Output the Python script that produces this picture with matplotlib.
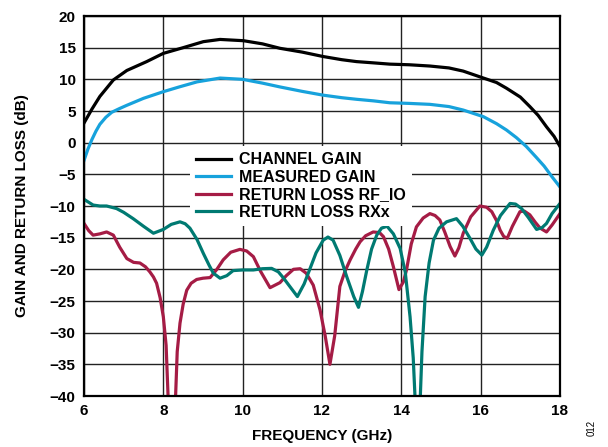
import matplotlib
matplotlib.use("Agg")
import matplotlib.pyplot as plt

plt.rcParams['font.family'] = ['Liberation Sans', 'DejaVu Sans']
plt.rcParams['font.weight'] = 'bold'

# Channel gain (black)
cg_f = [6.0, 6.2, 6.4, 6.74, 7.08, 7.58, 8.0, 8.5, 9.01, 9.43, 10.02, 10.5, 10.94, 11.5, 12.03, 12.5, 12.87, 13.3, 13.71, 14.2, 14.72, 15.2, 15.56, 16.07, 16.4, 16.65, 17.0, 17.24, 17.45, 17.66, 17.85, 18.0]
cg_v = [3.1, 5.3, 7.3, 9.9, 11.4, 12.8, 14.1, 15.0, 15.95, 16.3, 16.1, 15.6, 14.9, 14.3, 13.6, 13.1, 12.8, 12.6, 12.4, 12.3, 12.1, 11.8, 11.3, 10.2, 9.5, 8.6, 7.2, 5.7, 4.3, 2.5, 1.0, -0.6]

# Measured gain (blue)
mg_f = [6.0, 6.1, 6.2, 6.3, 6.4, 6.55, 6.7, 6.9, 7.08, 7.5, 8.0, 8.4, 8.85, 9.43, 10.0, 10.5, 10.94, 11.5, 12.03, 12.5, 12.87, 13.3, 13.71, 14.2, 14.72, 15.2, 15.56, 16.07, 16.4, 16.65, 16.9, 17.15, 17.4, 17.6, 17.8, 18.0]
mg_v = [-2.8, -1.0, 0.5, 1.8, 2.9, 4.0, 4.8, 5.4, 5.9, 7.0, 8.05, 8.8, 9.6, 10.2, 10.0, 9.4, 8.8, 8.1, 7.5, 7.1, 6.85, 6.6, 6.3, 6.2, 6.05, 5.7, 5.15, 4.1, 3.0, 2.0, 0.8, -0.6, -2.3, -3.7, -5.4, -7.0]

# Return loss RF_IO (crimson)
rf_f = [6.0, 6.12, 6.23, 6.4, 6.57, 6.74, 6.9, 7.08, 7.25, 7.41, 7.55, 7.66, 7.75, 7.83, 7.92, 8.0, 8.07, 8.15, 8.28, 8.35, 8.42, 8.5, 8.59, 8.7, 8.84, 9.0, 9.18, 9.35, 9.51, 9.7, 9.93, 10.1, 10.27, 10.45, 10.69, 10.94, 11.1, 11.28, 11.45, 11.6, 11.78, 11.95, 12.08, 12.2, 12.32, 12.45, 12.58, 12.71, 12.85, 12.96, 13.1, 13.29, 13.45, 13.55, 13.68, 13.8, 13.94, 14.05, 14.13, 14.25, 14.38, 14.55, 14.72, 14.85, 14.97, 15.1, 15.23, 15.35, 15.45, 15.56, 15.75, 15.98, 16.15, 16.28, 16.4, 16.49, 16.58, 16.67, 16.8, 16.99, 17.1, 17.24, 17.38, 17.5, 17.66, 17.8, 18.0]
rf_v = [-12.75, -13.9, -14.6, -14.4, -14.1, -14.6, -16.5, -18.3, -18.9, -19.0, -19.6, -20.4, -21.2, -22.2, -24.5, -27.5, -32.0, -45.0, -45.0, -33.0, -28.5, -25.5, -23.3, -22.2, -21.6, -21.4, -21.3, -20.0, -18.5, -17.3, -16.85, -17.1, -18.0, -20.3, -22.9, -22.1, -21.0, -20.0, -19.9, -20.6, -22.5, -26.4, -30.5, -35.0, -30.5, -22.7, -20.3, -18.5, -16.8, -15.65, -14.7, -14.1, -14.2, -14.85, -16.8, -19.6, -23.2, -22.0, -20.1, -16.0, -13.3, -11.9, -11.2, -11.5, -12.2, -14.2, -16.4, -17.9, -16.6, -14.3, -11.7, -10.0, -10.2, -10.9, -12.3, -13.8, -14.8, -15.1, -13.2, -10.9, -10.8, -11.4, -12.6, -13.5, -14.1, -13.0, -11.2]

# Return loss RXx (teal)
rx_f = [6.0, 6.23, 6.4, 6.57, 6.82, 7.0, 7.24, 7.5, 7.75, 8.0, 8.2, 8.42, 8.55, 8.67, 8.85, 9.01, 9.15, 9.26, 9.43, 9.6, 9.76, 10.0, 10.27, 10.5, 10.73, 10.9, 11.02, 11.2, 11.38, 11.55, 11.7, 11.85, 12.03, 12.15, 12.28, 12.45, 12.62, 12.8, 12.92, 13.02, 13.13, 13.25, 13.38, 13.5, 13.64, 13.8, 13.97, 14.1, 14.22, 14.3, 14.38, 14.45, 14.52, 14.6, 14.7, 14.81, 14.95, 15.14, 15.39, 15.55, 15.73, 15.88, 16.03, 16.15, 16.32, 16.5, 16.74, 16.88, 17.03, 17.2, 17.41, 17.55, 17.66, 17.8, 18.0]
rx_v = [-8.95, -9.85, -10.0, -10.0, -10.4, -11.0, -12.0, -13.2, -14.3, -13.7, -12.9, -12.5, -12.8, -13.5, -15.3, -17.5, -19.3, -20.6, -21.4, -21.0, -20.2, -20.1, -20.1, -19.9, -19.85, -20.4, -21.3, -22.8, -24.3, -22.3, -19.85, -17.4, -15.4, -14.9, -15.4, -17.8, -21.1, -24.3, -26.0, -23.5, -20.1, -16.8, -14.6, -13.5, -13.2, -14.4, -16.7, -20.5, -27.5, -34.0, -45.0, -45.0, -33.0, -24.3, -19.0, -15.4, -13.5, -12.5, -12.0, -13.2, -15.1, -16.8, -17.75, -16.5, -13.8, -11.5, -9.6, -9.7, -10.4, -11.8, -13.7, -13.4, -12.75, -11.2, -9.6]

labels = ["CHANNEL GAIN", "MEASURED GAIN", "RETURN LOSS RF_IO", "RETURN LOSS RXx"]
colors = ["#000000", "#17a2dc", "#a51c45", "#007a72"]

x_ticks = [6, 8, 10, 12, 14, 16, 18]
y_ticks = list(range(-40, 21, 5))

fig = plt.figure(figsize=(6.08, 4.47), dpi=100)
ax = fig.add_axes([84/608, 1-396/447, 476/608, 380/447])

series = [(cg_f, cg_v), (mg_f, mg_v), (rf_f, rf_v), (rx_f, rx_v)]
for (f, v), lab, c in zip(series, labels, colors):
    ax.plot(f, v, color=c, lw=2.3, label=lab, solid_joinstyle='round', zorder=3)

ax.set_xlim(6, 18)
ax.set_ylim(-40, 20)
ax.set_xticks(x_ticks)
ax.set_yticks(y_ticks)
ax.tick_params(axis='both', length=0, pad=6, labelsize=11)
for lbl in ax.get_xticklabels() + ax.get_yticklabels():
    lbl.set_fontweight('bold')
ax.grid(True, color='#222222', lw=1.0, zorder=1)
for s in ax.spines.values():
    s.set_linewidth(1.6)
    s.set_zorder(4)

ax.set_xlabel("FREQUENCY (GHz)", fontsize=11, fontweight='bold', labelpad=8)
ax.set_ylabel("GAIN AND RETURN LOSS (dB)", fontsize=11, fontweight='bold', labelpad=15)

leg = ax.legend(loc='upper left', bbox_to_anchor=(0.222, 0.658), frameon=True,
                fancybox=False, framealpha=1, edgecolor='none', facecolor='white',
                fontsize=11.5, handlelength=2.2, labelspacing=0.15, borderpad=0.4,
                handletextpad=0.5, borderaxespad=0)
for t in leg.get_texts():
    t.set_fontweight('bold')
leg.set_zorder(5)

fig.text(592/608, 1-428/447, "012", rotation=90, fontsize=7, fontweight='normal',
         ha='center', va='center')

fig.savefig("out.png", dpi=100)
